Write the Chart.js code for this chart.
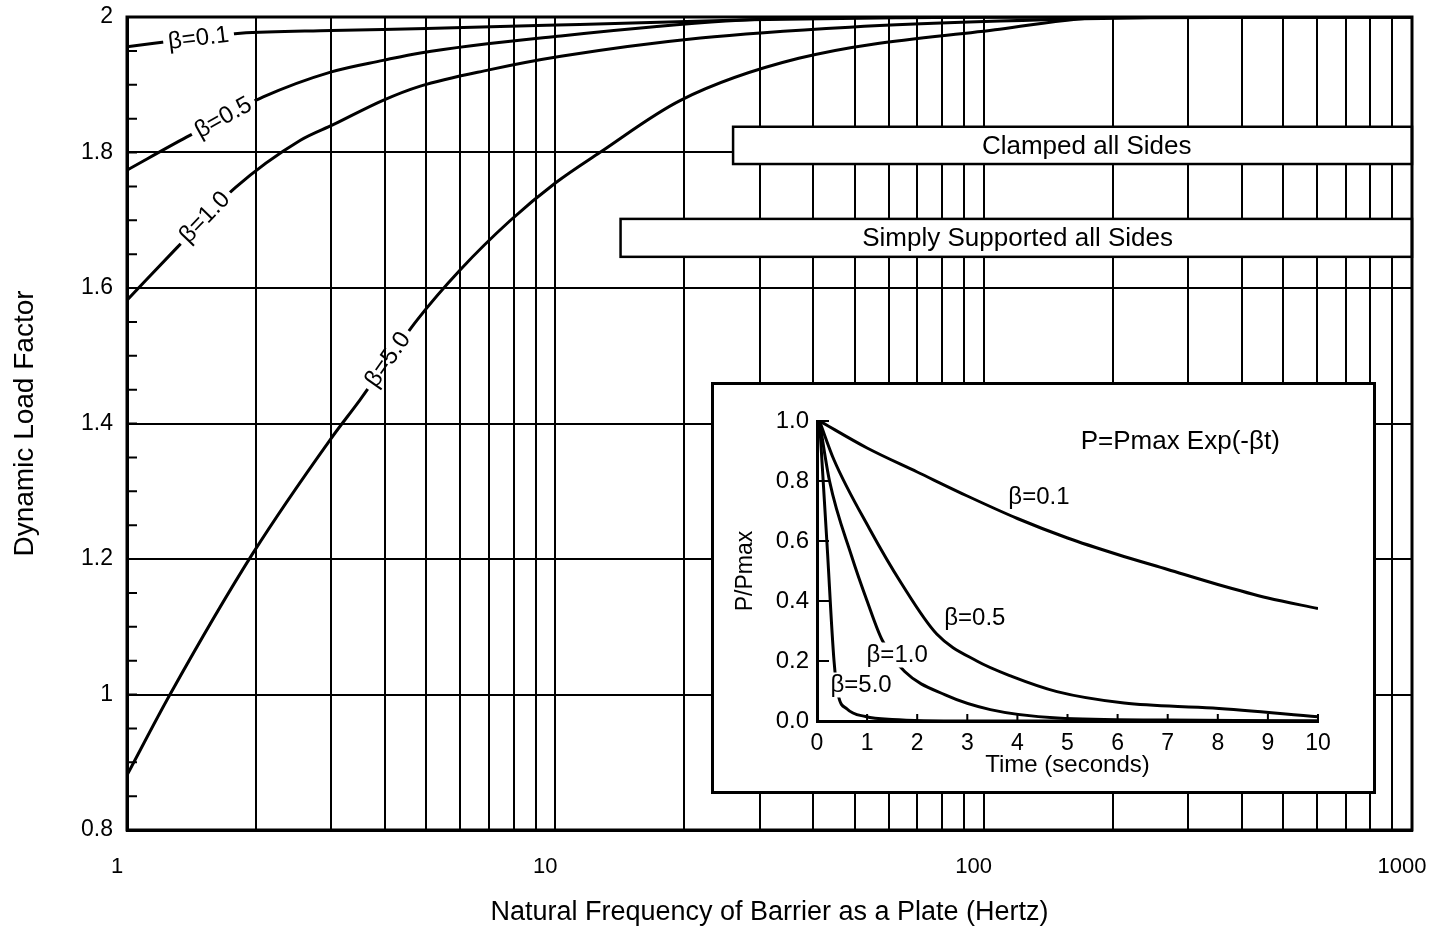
<!DOCTYPE html>
<html>
<head>
<meta charset="utf-8">
<title>Dynamic Load Factor</title>
<script src="https://cdn.jsdelivr.net/npm/chart.js@4.4.1/dist/chart.umd.min.js"></script>
<style>
  html, body { margin: 0; padding: 0; background: #fff; }
  #wrap { position: relative; width: 1444px; height: 931px; overflow: hidden; }
  #mainChart { position: absolute; left: 0; top: 0; }
  #inset { position: absolute; left: 711px; top: 382px; width: 659px; height: 406px;
           border: 3px solid #000; background: #fff; }
  #insetChart { display: block; }
</style>
</head>
<body>
<div id="wrap">
  <canvas id="mainChart" width="1444" height="931"></canvas>
  <div id="inset"><canvas id="insetChart" width="659" height="406"></canvas></div>
</div>
<script>
// --- values ---

// main chart axes
const freqTicks = [1, 2, 3, 4, 5, 6, 7, 8, 9, 10, 20, 30, 40, 50, 60, 70, 80, 90,
                   100, 200, 300, 400, 500, 600, 700, 800, 900, 1000];
const freqLabelled = [1, 10, 100, 1000];
const dlfTicks = [0.8, 0.85, 0.9, 0.95, 1, 1.05, 1.1, 1.15, 1.2, 1.25, 1.3, 1.35, 1.4,
                  1.45, 1.5, 1.55, 1.6, 1.65, 1.7, 1.75, 1.8, 1.85, 1.9, 1.95, 2];
const dlfLabelled = [0.8, 1, 1.2, 1.4, 1.6, 1.8, 2];

// dynamic load factor curves (frequency in Hz)
const beta01Freq = [1, 1.5, 1.84, 3, 5, 11.4, 28.5, 64, 110, 1000];
const beta01Dlf  = [1.956, 1.970, 1.976, 1.980, 1.983, 1.989, 1.996, 1.999, 2.0, 2.0];
const beta05Freq = [1, 1.38, 1.5, 2.08, 3, 3.96, 4.84, 10.3, 25, 51, 1000];
const beta05Dlf  = [1.774, 1.823, 1.835, 1.882, 1.919, 1.936, 1.947, 1.972, 1.994, 2.0, 2.0];
const beta10Freq = [1, 1.31, 1.79, 2.54, 3.03, 3.96, 4.84, 7, 10.3, 21.8, 48.7, 109, 245, 1000];
const beta10Dlf  = [1.582, 1.660, 1.748, 1.818, 1.841, 1.877, 1.898, 1.922, 1.942, 1.969, 1.985, 1.994, 1.999, 2.0];
const beta50Freq = [1, 1.26, 1.97, 2.98, 3.5, 4.76, 6, 7.86, 10, 12.7, 19.6, 37, 109, 200, 1000];
const beta50Dlf  = [0.881, 1.0, 1.209, 1.376, 1.435, 1.553, 1.627, 1.70, 1.755, 1.80, 1.877, 1.939, 1.982, 2.0, 2.0];

// inset axes
const timeTicks = [0, 1, 2, 3, 4, 5, 6, 7, 8, 9, 10];
const ratioTicks = [0, 0.2, 0.4, 0.6, 0.8, 1.0];

// inset pulse decay curves (time in seconds)
const decay01Time  = [0.05, 1, 2, 3, 4, 5, 6, 7, 8, 9, 10];
const decay01Ratio = [1.0, 0.91, 0.83, 0.75, 0.675, 0.61, 0.555, 0.505, 0.455, 0.41, 0.375];
const decay05Time  = [0.05, 0.34, 1.05, 1.68, 2.39, 3.19, 3.9, 4.79, 6.13, 7.9, 10];
const decay05Ratio = [1.0, 0.87, 0.64, 0.46, 0.29, 0.2, 0.148, 0.098, 0.06, 0.043, 0.014];
const decay10Time  = [0.05, 0.25, 0.69, 1.0, 1.3, 1.75, 2.56, 3.46, 4.8, 7, 10];
const decay10Ratio = [1.0, 0.8, 0.55, 0.4, 0.27, 0.165, 0.087, 0.038, 0.01, 0.003, 0.0];
const decay50Time  = [0.05, 0.2, 0.34, 0.42, 0.6, 0.97, 1.5, 3, 10];
const decay50Ratio = [1.0, 0.59, 0.2, 0.09, 0.04, 0.015, 0.005, 0.0, 0.0];

// --- helpers ---
const FONT = '"Liberation Sans", Arial, Helvetica, sans-serif';
Chart.defaults.color = '#000';
Chart.defaults.font.family = FONT;

function isIn(list, v) {
    return list.some(t => Math.abs(t - v) < 1e-6);
}

function curve(label, xs, ys) {
    return {
        label: label,
        data: xs.map((x, i) => ({ x: x, y: ys[i] })),
        borderColor: '#000',
        borderWidth: 3,
        pointRadius: 0,
        fill: false,
        cubicInterpolationMode: 'monotone'
    };
}

// keep the plot area exactly where the layout padding puts it
function noLabelPadding(axis) {
    axis.paddingTop = 0;
    axis.paddingBottom = 0;
    axis.paddingLeft = 0;
    axis.paddingRight = 0;
}

// labels written on the curves; the curve is cut where a masked label sits
const curveLabels = {
    id: 'curveLabels',
    beforeDatasetsDraw(chart, args, opts) {
        const ctx = chart.ctx;
        ctx.save();
        ctx.font = opts.size + 'px ' + FONT;
        ctx.beginPath();
        ctx.rect(0, 0, chart.width, chart.height);
        opts.items.forEach(item => {
            if (!item.mask) return;
            const px = chart.scales.x.getPixelForValue(item.x);
            const py = chart.scales.y.getPixelForValue(item.y);
            const w = ctx.measureText(item.text).width + 2 * opts.padX;
            const h = opts.size * 0.8 + 2 * opts.padY;
            ctx.save();
            ctx.translate(px, py);
            ctx.rotate((item.angle || 0) * Math.PI / 180);
            ctx.rect(-w / 2, -h / 2, w, h);
            ctx.restore();
        });
        ctx.clip('evenodd');
    },
    afterDatasetsDraw(chart, args, opts) {
        const ctx = chart.ctx;
        ctx.restore();
        ctx.save();
        ctx.fillStyle = '#000';
        ctx.textAlign = 'center';
        ctx.textBaseline = 'middle';
        opts.items.forEach(item => {
            ctx.save();
            ctx.font = (item.size || opts.size) + 'px ' + FONT;
            ctx.translate(chart.scales.x.getPixelForValue(item.x), chart.scales.y.getPixelForValue(item.y));
            ctx.rotate((item.angle || 0) * Math.PI / 180);
            ctx.fillText(item.text, 0, 0);
            ctx.restore();
        });
        ctx.restore();
    }
};

// short tick marks pointing into the plot area
const inwardTicks = {
    id: 'inwardTicks',
    afterDraw(chart, args, opts) {
        const ctx = chart.ctx;
        const area = chart.chartArea;
        ctx.save();
        ctx.strokeStyle = '#000';
        ctx.lineWidth = opts.width;
        ctx.beginPath();
        if (opts.yLength) {
            chart.scales.y.ticks.forEach((t, i) => {
                const py = chart.scales.y.getPixelForTick(i);
                ctx.moveTo(area.left, py);
                ctx.lineTo(area.left + opts.yLength, py);
            });
        }
        if (opts.xLength) {
            chart.scales.x.ticks.forEach((t, i) => {
                const px = chart.scales.x.getPixelForTick(i);
                ctx.moveTo(px, area.bottom);
                ctx.lineTo(px, area.bottom - opts.xLength);
            });
        }
        ctx.stroke();
        ctx.restore();
    }
};

// the two boxed notes running to the right edge
const noteBoxes = {
    id: 'noteBoxes',
    afterDraw(chart, args, opts) {
        const ctx = chart.ctx;
        const xs = chart.scales.x, ys = chart.scales.y;
        ctx.save();
        opts.items.forEach(b => {
            const left = xs.getPixelForValue(b.from);
            const right = chart.chartArea.right;
            const top = ys.getPixelForValue(b.top);
            const bottom = ys.getPixelForValue(b.bottom);
            ctx.fillStyle = '#fff';
            ctx.fillRect(left, top, right - left, bottom - top);
            ctx.strokeStyle = '#000';
            ctx.lineWidth = 2.5;
            ctx.strokeRect(left, top, right - left, bottom - top);
            ctx.fillStyle = '#000';
            ctx.font = opts.size + 'px ' + FONT;
            ctx.textAlign = 'center';
            ctx.textBaseline = 'middle';
            ctx.fillText(b.text, xs.getPixelForValue(b.textAt), (top + bottom) / 2 + 1);
        });
        ctx.restore();
    }
};

// full frame round the main plot
const plotFrame = {
    id: 'plotFrame',
    afterDraw(chart) {
        const a = chart.chartArea;
        const ctx = chart.ctx;
        ctx.save();
        ctx.strokeStyle = '#000';
        ctx.lineWidth = 3;
        ctx.strokeRect(a.left, a.top, a.right - a.left, a.bottom - a.top);
        ctx.restore();
    }
};

// --- main chart ---
const mainChart = new Chart(document.getElementById('mainChart'), {
    type: 'line',
    data: {
        datasets: [
            curve('β=0.1', beta01Freq, beta01Dlf),
            curve('β=0.5', beta05Freq, beta05Dlf),
            curve('β=1.0', beta10Freq, beta10Dlf),
            curve('β=5.0', beta50Freq, beta50Dlf)
        ]
    },
    plugins: [curveLabels, noteBoxes, inwardTicks, plotFrame],
    options: {
        responsive: false,
        devicePixelRatio: 1,
        animation: false,
        events: [],
        layout: { autoPadding: false, padding: { top: 17, right: 32, left: 0, bottom: 0 } },
        scales: {
            x: {
                type: 'logarithmic',
                min: 1,
                max: 1000,
                afterBuildTicks: axis => { axis.ticks = freqTicks.map(v => ({ value: v })); },
                afterFit: axis => { axis.height = 101; noLabelPadding(axis); },
                grid: { color: '#000', lineWidth: 2, drawTicks: false },
                border: { color: '#000', width: 3 },
                ticks: {
                    autoSkip: false,
                    maxRotation: 0,
                    padding: 24,
                    labelOffset: -10,
                    font: { size: 22 },
                    callback: v => isIn(freqLabelled, v) ? String(v) : ''
                },
                title: {
                    display: true,
                    text: 'Natural Frequency of Barrier as a Plate (Hertz)',
                    font: { size: 27 },
                    padding: { top: 0, bottom: 2 }
                }
            },
            y: {
                min: 0.8,
                max: 2,
                afterBuildTicks: axis => { axis.ticks = dlfTicks.map(v => ({ value: v })); },
                afterFit: axis => { axis.width = 127; noLabelPadding(axis); },
                grid: {
                    color: c => (c.tick && isIn(dlfLabelled, c.tick.value)) ? '#000' : 'rgba(0,0,0,0)',
                    lineWidth: 2,
                    drawTicks: false
                },
                border: { color: '#000', width: 3 },
                ticks: {
                    autoSkip: false,
                    padding: 14,
                    font: { size: 23 },
                    callback: v => isIn(dlfLabelled, v) ? String(v) : ''
                },
                title: {
                    display: true,
                    text: 'Dynamic Load Factor',
                    font: { size: 28 },
                    padding: { top: 8, bottom: 0 }
                }
            }
        },
        plugins: {
            legend: { display: false },
            tooltip: { enabled: false },
            curveLabels: {
                size: 24, padX: 5, padY: 3,
                items: [
                    { text: 'β=0.1', x: 1.47, y: 1.968, angle: -7, mask: true },
                    { text: 'β=0.5', x: 1.68, y: 1.851, angle: -29, mask: true },
                    { text: 'β=1.0', x: 1.52, y: 1.704, angle: -46, mask: true },
                    { text: 'β=5.0', x: 4.07, y: 1.494, angle: -55, mask: true }
                ]
            },
            noteBoxes: {
                size: 26,
                items: [
                    { text: 'Clamped all Sides', from: 26, textAt: 174, top: 1.838, bottom: 1.783 },
                    { text: 'Simply Supported all Sides', from: 14.2, textAt: 120, top: 1.702, bottom: 1.646 }
                ]
            },
            inwardTicks: { yLength: 10, xLength: 0, width: 2 }
        }
    }
});

// --- inset: pulse shape P = Pmax exp(-βt) ---
const insetChart = new Chart(document.getElementById('insetChart'), {
    type: 'line',
    data: {
        datasets: [
            curve('β=0.1', decay01Time, decay01Ratio),
            curve('β=0.5', decay05Time, decay05Ratio),
            curve('β=1.0', decay10Time, decay10Ratio),
            curve('β=5.0', decay50Time, decay50Ratio)
        ]
    },
    plugins: [curveLabels, inwardTicks],
    options: {
        responsive: false,
        devicePixelRatio: 1,
        animation: false,
        events: [],
        layout: { autoPadding: false, padding: { top: 36, right: 55, left: 0, bottom: 0 } },
        scales: {
            x: {
                type: 'linear',
                min: 0,
                max: 10,
                afterBuildTicks: axis => { axis.ticks = timeTicks.map(v => ({ value: v })); },
                afterFit: axis => { axis.height = 70; noLabelPadding(axis); },
                grid: { display: false, drawTicks: false },
                border: { color: '#000', width: 3 },
                ticks: { autoSkip: false, maxRotation: 0, padding: 9, font: { size: 23 },
                         callback: v => String(v) },
                title: { display: true, text: 'Time (seconds)', font: { size: 24 },
                         padding: { top: 0, bottom: 11 } }
            },
            y: {
                min: 0,
                max: 1,
                afterBuildTicks: axis => { axis.ticks = ratioTicks.map(v => ({ value: v })); },
                afterFit: axis => { axis.width = 103; noLabelPadding(axis); },
                grid: { display: false, drawTicks: false },
                border: { color: '#000', width: 3 },
                ticks: { autoSkip: false, padding: 8, font: { size: 24 },
                         callback: v => v.toFixed(1) },
                title: { display: true, text: 'P/Pmax', font: { size: 23 },
                         padding: { top: 18, bottom: 0 } }
            }
        },
        plugins: {
            legend: { display: false },
            tooltip: { enabled: false },
            curveLabels: {
                size: 24, padX: 4, padY: 3,
                items: [
                    { text: 'P=Pmax Exp(-βt)', x: 7.25, y: 0.93, size: 26 },
                    { text: 'β=0.1', x: 4.43, y: 0.745 },
                    { text: 'β=0.5', x: 3.15, y: 0.343 },
                    { text: 'β=1.0', x: 1.6, y: 0.22, mask: true },
                    { text: 'β=5.0', x: 0.88, y: 0.12, mask: true }
                ]
            },
            inwardTicks: { yLength: 12, xLength: 7, width: 2 }
        }
    }
});
</script>
</body>
</html>
